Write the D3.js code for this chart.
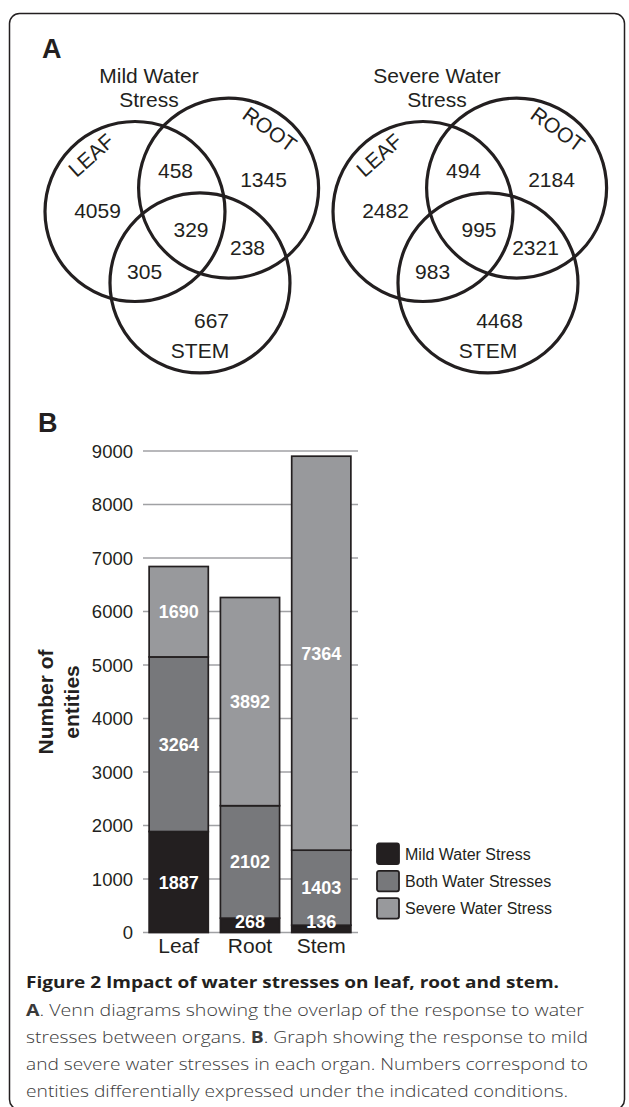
<!DOCTYPE html>
<html>
<head>
<meta charset="utf-8">
<script src="https://cdn.jsdelivr.net/npm/d3@7"></script>
<style>
body { margin: 0; background: #fff; }
svg { display: block; }
</style>
</head>
<body>
<div id="figure"></div>
<script>
// venn regions, always in this order: L, R, L+R, L+R+S, R+S, L+S, S
var vennSets = ["LEAF", "ROOT", "STEM"];
var vennRegions = ["L", "R", "LR", "LRS", "RS", "LS", "S"];
var vennTitles = [["Mild Water", "Stress"], ["Severe Water", "Stress"]];
var mildCounts = [4059, 1345, 458, 329, 238, 305, 667];
var severeCounts = [2482, 2184, 494, 995, 2321, 983, 4468];

// bar chart
var organs = ["Leaf", "Root", "Stem"];
var stressTypes = ["Mild Water Stress", "Both Water Stresses", "Severe Water Stress"];
var mildOnly = [1887, 268, 136];
var bothStresses = [3264, 2102, 1403];
var severeOnly = [1690, 3892, 7364];
var yTicks = [0, 1000, 2000, 3000, 4000, 5000, 6000, 7000, 8000, 9000];

var captionTitle = "Figure 2 Impact of water stresses on leaf, root and stem.";
var captionLines = [
	[["A", true], [". Venn diagrams showing the overlap of the response to water", false]],
	[["stresses between organs. ", false], ["B", true], [". Graph showing the response to mild", false]],
	[["and severe water stresses in each organ. Numbers correspond to", false]],
	[["entities differentially expressed under the indicated conditions.", false]]
];

var Fig = {
	width : 629,
	height : 1107,
	ink : "#231f20",
	sans : "'Liberation Sans', Arial, Helvetica, sans-serif",
	capFont : "'Open Sans', 'Noto Sans', sans-serif",
	vennRadius : 90,
	vennOrigins : [{x : 135, y : 211.5}, {x : 423, y : 211.5}], // centre of the LEAF circle
	// circle centres and number anchors, in radius units from the LEAF centre
	vennCircles : [[0, 0], [1.04, -0.26], [0.722, 0.794]],
	vennNumberPos : [[-0.417, 0.067], [1.428, -0.272], [0.45, -0.372], [0.622, 0.283], [1.25, 0.483], [0.106, 0.75], [0.85, 1.294]],
	// set names: circle, polar angle, distance (radius units), text rotation
	vennSetPos : [[0, -128, 0.795, -42], [1, -55, 0.8, 36], [2, 90, 0.75, 0]],
	barLeft : 143,
	barRight : 358,
	barTop : 451,
	barBottom : 932.5,
	colors : ["#231f20", "#77787b", "#98999c"],

	draw : function(){
		var svg = d3.select("#figure").append("svg")
			.attr("width", Fig.width)
			.attr("height", Fig.height);

		// frame round the whole figure
		svg.append("rect")
			.attr("x", 9.5).attr("y", 13.5)
			.attr("width", 615).attr("height", 1096)
			.attr("rx", 10)
			.attr("fill", "none")
			.attr("stroke", Fig.ink)
			.attr("stroke-width", 1.5);

		svg.append("text")
			.attr("x", 42).attr("y", 58)
			.style("font", "bold 27px " + Fig.sans)
			.attr("fill", Fig.ink)
			.text("A");
		svg.append("text")
			.attr("x", 38).attr("y", 432)
			.style("font", "bold 27px " + Fig.sans)
			.attr("fill", Fig.ink)
			.text("B");

		this.drawVenn(svg, 0, mildCounts);
		this.drawVenn(svg, 1, severeCounts);
		this.drawBars(svg);
		this.drawCaption(svg);
	},

	drawVenn : function(svg, k, counts){
		var o = Fig.vennOrigins[k];
		var u = d3.scaleLinear().domain([0, 1]).range([0, Fig.vennRadius]);
		var g = svg.append("g").attr("class", "venn").attr("transform", "translate(" + o.x + "," + o.y + ")");

		g.selectAll("text.title")
			.data(vennTitles[k])
			.enter().append("text")
			.attr("class", "title")
			.attr("x", 14)
			.attr("y", function(d, i){ return -128.5 + i * 24; })
			.attr("text-anchor", "middle")
			.style("font", "21px " + Fig.sans)
			.attr("fill", Fig.ink)
			.text(function(d){ return d; });

		g.selectAll("circle")
			.data(vennSets)
			.enter().append("circle")
			.attr("cx", function(d, i){ return u(Fig.vennCircles[i][0]); })
			.attr("cy", function(d, i){ return u(Fig.vennCircles[i][1]); })
			.attr("r", u(1))
			.attr("fill", "none")
			.attr("stroke", Fig.ink)
			.attr("stroke-width", 3.2);

		g.selectAll("text.count")
			.data(counts)
			.enter().append("text")
			.attr("class", "count")
			.attr("x", function(d, i){ return u(Fig.vennNumberPos[i][0]); })
			.attr("y", function(d, i){ return u(Fig.vennNumberPos[i][1]); })
			.attr("text-anchor", "middle")
			.style("font", "21px " + Fig.sans)
			.attr("fill", Fig.ink)
			.text(function(d){ return d; });

		g.selectAll("text.set")
			.data(vennSets)
			.enter().append("text")
			.attr("class", "set")
			.attr("transform", function(d, i){
				var p = Fig.vennSetPos[i], c = Fig.vennCircles[p[0]];
				var a = p[1] * Math.PI / 180;
				var x = u(c[0] + p[2] * Math.cos(a)), y = u(c[1] + p[2] * Math.sin(a));
				return "translate(" + x + "," + y + ") rotate(" + p[3] + ")";
			})
			.attr("text-anchor", "middle")
			.attr("dy", "0.36em")
			.style("font", "21px " + Fig.sans)
			.attr("fill", Fig.ink)
			.text(function(d){ return d; });
	},

	drawBars : function(svg){
		var table = organs.map(function(o, i){
			return {organ : o, mild : mildOnly[i], both : bothStresses[i], severe : severeOnly[i]};
		});
		var keys = ["mild", "both", "severe"];
		var series = d3.stack().keys(keys)(table);

		var x = d3.scaleBand().domain(organs)
			.range([Fig.barLeft - 1, Fig.barRight])
			.paddingInner(0.17)
			.paddingOuter(0.1);
		var y = d3.scaleLinear().domain([0, 9000]).range([Fig.barBottom, Fig.barTop]);

		// grid lines
		var grid = svg.append("g").attr("class", "grid");
		grid.selectAll("line")
			.data(yTicks)
			.enter().append("line")
			.attr("x1", Fig.barLeft)
			.attr("x2", Fig.barRight)
			.attr("y1", function(d){ return y(d); })
			.attr("y2", function(d){ return y(d); })
			.attr("stroke", "#a0a1a4")
			.attr("stroke-width", 1.6);

		grid.selectAll("text")
			.data(yTicks)
			.enter().append("text")
			.attr("x", Fig.barLeft - 10)
			.attr("y", function(d){ return y(d); })
			.attr("dy", "0.36em")
			.attr("text-anchor", "end")
			.style("font", "18.5px " + Fig.sans)
			.attr("fill", Fig.ink)
			.text(function(d){ return d; });

		var layers = svg.append("g").attr("class", "bars")
			.selectAll("g")
			.data(series)
			.enter().append("g")
			.attr("fill", function(s){ return Fig.colors[s.index]; });

		layers.selectAll("rect")
			.data(function(s){ return s; })
			.enter().append("rect")
			.attr("x", function(d){ return x(d.data.organ); })
			.attr("y", function(d){ return y(d[1]); })
			.attr("width", x.bandwidth())
			.attr("height", function(d){ return y(d[0]) - y(d[1]); })
			.attr("stroke", Fig.ink)
			.attr("stroke-width", 1.7);

		// value labels go on top of every segment
		var labels = [];
		series.forEach(function(s){
			s.forEach(function(d){ labels.push({d : d, v : d.data[s.key]}); });
		});
		svg.append("g").attr("class", "bar-values")
			.selectAll("text")
			.data(labels)
			.enter().append("text")
			.attr("x", function(e){ return x(e.d.data.organ) + x.bandwidth() / 2; })
			.attr("y", function(e){ return Math.min((y(e.d[0]) + y(e.d[1])) / 2, y(0) - 11); })
			.attr("dy", "0.36em")
			.attr("text-anchor", "middle")
			.style("font", "bold 18px " + Fig.sans)
			.attr("fill", "#fff")
			.text(function(e){ return e.v; });

		svg.append("g").selectAll("text")
			.data(organs)
			.enter().append("text")
			.attr("x", function(d){ return x(d) + x.bandwidth() / 2; })
			.attr("y", 953)
			.attr("text-anchor", "middle")
			.style("font", "21px " + Fig.sans)
			.attr("fill", Fig.ink)
			.text(function(d){ return d; });

		// axis title
		svg.append("g").selectAll("text")
			.data(["Number of", "entities"])
			.enter().append("text")
			.attr("transform", function(d, i){ return "translate(" + (53 + i * 26) + ",702) rotate(-90)"; })
			.attr("text-anchor", "middle")
			.style("font", "bold 21px " + Fig.sans)
			.attr("fill", Fig.ink)
			.text(function(d){ return d; });

		// legend
		var legend = svg.append("g").attr("class", "legend")
			.selectAll("g")
			.data(stressTypes)
			.enter().append("g")
			.attr("transform", function(d, i){ return "translate(377," + (843.5 + i * 27.3) + ")"; });
		legend.append("rect")
			.attr("width", 22).attr("height", 20.5)
			.attr("rx", 2)
			.attr("fill", function(d, i){ return Fig.colors[i]; })
			.attr("stroke", Fig.ink)
			.attr("stroke-width", 1.8);
		legend.append("text")
			.attr("x", 28).attr("y", 16)
			.style("font", "16px " + Fig.sans)
			.attr("fill", Fig.ink)
			.text(function(d){ return d; });
	},

	drawCaption : function(svg){
		svg.append("text")
			.attr("x", 26).attr("y", 988)
			.attr("textLength", 533)
			.attr("lengthAdjust", "spacingAndGlyphs")
			.style("font", "bold 16.5px " + Fig.capFont)
			.attr("fill", Fig.ink)
			.text(captionTitle);

		var widths = [558, 562, 562, 542];
		var lines = svg.append("g").attr("class", "caption")
			.selectAll("text")
			.data(captionLines)
			.enter().append("text")
			.attr("x", 26)
			.attr("y", function(d, i){ return 1016 + i * 27; })
			.attr("textLength", function(d, i){ return widths[i]; })
			.attr("lengthAdjust", "spacingAndGlyphs")
			.style("font", "300 16.5px " + Fig.capFont)
			.attr("fill", "#3a3a3a");
		lines.selectAll("tspan")
			.data(function(d){ return d; })
			.enter().append("tspan")
			.style("font-weight", function(d){ return d[1] ? "bold" : "300"; })
			.text(function(d){ return d[0]; });
	}
};

Fig.draw();
</script>
</body>
</html>
